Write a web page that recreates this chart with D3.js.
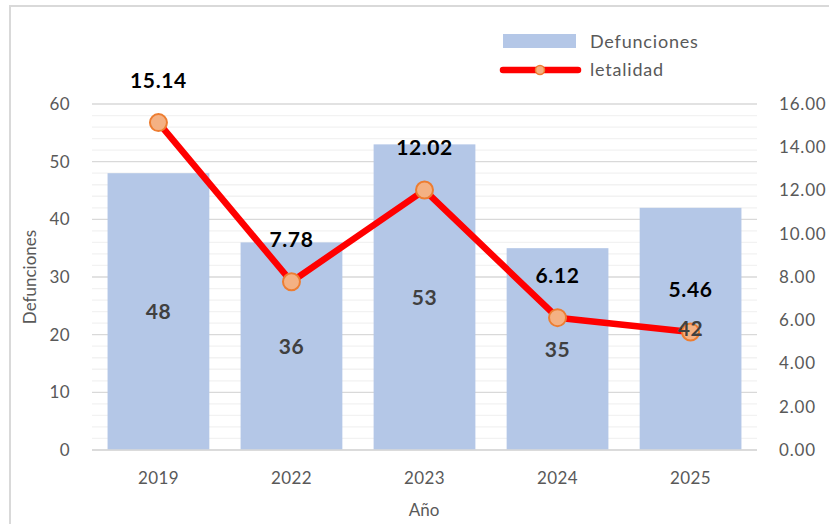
<!DOCTYPE html>
<html><head><meta charset="utf-8">
<script src="https://cdn.jsdelivr.net/npm/d3@7/dist/d3.min.js"></script>
<style>body{margin:0;background:#fff}svg{display:block}text{font-family:Lato,"Open Sans",sans-serif}</style>
</head><body><svg id="c" width="829" height="524"></svg>
<script>
const years = ["2019","2022","2023","2024","2025"];
const defunciones = [48,36,53,35,42];
const letalidad = [15.14,7.78,12.02,6.12,5.46];
const leftTicks = [0,10,20,30,40,50,60];
const rightTicks = [0,2,4,6,8,10,12,14,16];

const svg = d3.select("#c");
const L = 92, R = 757, T = 104, B = 450;
const x = d3.scaleBand().domain(years).range([L,R]).paddingInner(0.235).paddingOuter(0.117);
const y = d3.scaleLinear().domain([0,60]).range([B,T]);
const y2 = d3.scaleLinear().domain([0,16]).range([B,T]);

// border
svg.append("path").attr("d","M10,530 L10,6 L835,6").attr("fill","none").attr("stroke","#d9d9d9").attr("stroke-width",2);

// minor gridlines
const minor = d3.range(0,61,2).filter(v=>v%10!==0);
svg.append("g").selectAll("line").data(minor).join("line")
  .attr("x1",L).attr("x2",R).attr("y1",d=>y(d)).attr("y2",d=>y(d))
  .attr("stroke","#f2f2f2").attr("stroke-width",1.3);
svg.append("g").selectAll("line").data(leftTicks).join("line")
  .attr("x1",L).attr("x2",R).attr("y1",d=>y(d)).attr("y2",d=>y(d))
  .attr("stroke","#d9d9d9").attr("stroke-width",1.3);

// bars
svg.append("g").selectAll("rect").data(defunciones).join("rect")
  .attr("x",(d,i)=>x(years[i])).attr("width",x.bandwidth())
  .attr("y",d=>y(d)).attr("height",d=>B-y(d)).attr("fill","#b4c7e7");

// axis line
svg.append("line").attr("x1",L).attr("x2",R).attr("y1",B).attr("y2",B).attr("stroke","#d9d9d9").attr("stroke-width",1.5);

// line
const cx = (i)=>x(years[i])+x.bandwidth()/2;
svg.append("path").datum(letalidad)
  .attr("d",d3.line().x((d,i)=>cx(i)).y(d=>y2(d)))
  .attr("fill","none").attr("stroke","#ff0000").attr("stroke-width",6.5).attr("stroke-linejoin","round");
svg.append("g").selectAll("circle").data(letalidad).join("circle")
  .attr("cx",(d,i)=>cx(i)).attr("cy",d=>y2(d)).attr("r",8.5)
  .attr("fill","#f4b183").attr("stroke","#ed7d31").attr("stroke-width",2);
svg.append("g").selectAll("text").data(letalidad).join("text")
  .attr("x",(d,i)=>cx(i)).attr("y",d=>y2(d)-35)
  .attr("text-anchor","middle").attr("font-weight","bold").attr("letter-spacing",0.6)
  .attr("font-size",21).attr("fill","#000").text(d=>d.toFixed(2));

// bar labels (drawn over line)
svg.append("g").selectAll("text").data(defunciones).join("text")
  .attr("x",(d,i)=>x(years[i])+x.bandwidth()/2).attr("y",d=>(y(d)+B)/2)
  .attr("dy","0.36em").attr("text-anchor","middle").attr("font-weight","bold").attr("letter-spacing",0.6)
  .attr("font-size",21).attr("fill","#404040").text(d=>d);

// left ticks
svg.append("g").selectAll("text").data(leftTicks).join("text")
  .attr("x",70).attr("y",d=>y(d)).attr("dy","0.35em").attr("text-anchor","end")
  .attr("font-size",17).attr("fill","#595959").attr("letter-spacing",0.4).text(d=>d);
// right ticks
svg.append("g").selectAll("text").data(rightTicks).join("text")
  .attr("x",779).attr("y",d=>y2(d)).attr("dy","0.35em").attr("text-anchor","start")
  .attr("font-size",17).attr("fill","#595959").attr("letter-spacing",0.8).text(d=>d.toFixed(2));
// x ticks
svg.append("g").selectAll("text").data(years).join("text")
  .attr("x",d=>x(d)+x.bandwidth()/2).attr("y",478).attr("dy","0.35em").attr("text-anchor","middle")
  .attr("font-size",17).attr("fill","#595959").attr("letter-spacing",0.4).text(d=>d);

// axis titles
svg.append("text").attr("x",424).attr("y",510).attr("dy","0.35em").attr("text-anchor","middle")
  .attr("font-size",17).attr("fill","#595959").text("Año");
svg.append("text").attr("transform","translate(30,277) rotate(-90)").attr("dy","0.35em").attr("text-anchor","middle")
  .attr("font-size",17).attr("fill","#595959").text("Defunciones");

// legend
svg.append("rect").attr("x",503).attr("y",34).attr("width",73).attr("height",14).attr("fill","#b4c7e7");
svg.append("text").attr("x",590).attr("y",42).attr("dy","0.35em").attr("font-size",18).attr("letter-spacing",0.8).attr("fill","#595959").text("Defunciones");
svg.append("line").attr("x1",503).attr("x2",578).attr("y1",70).attr("y2",70).attr("stroke","#ff0000").attr("stroke-width",6.5).attr("stroke-linecap","round");
svg.append("circle").attr("cx",540).attr("cy",70).attr("r",4.5).attr("fill","#f4b183").attr("stroke","#ed7d31").attr("stroke-width",1.5);
svg.append("text").attr("x",590).attr("y",70).attr("dy","0.35em").attr("font-size",18).attr("letter-spacing",0.8).attr("fill","#595959").text("letalidad");
</script></body></html>
